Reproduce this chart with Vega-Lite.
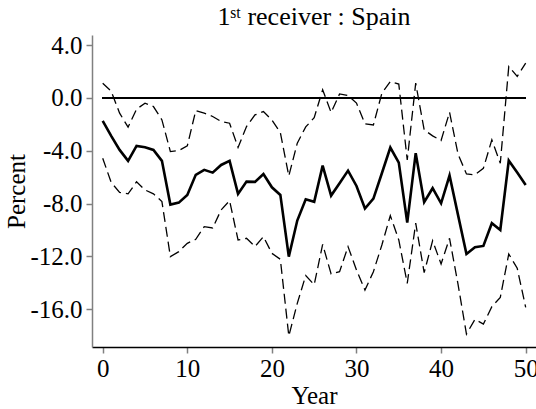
{
  "$schema": "https://vega.github.io/schema/vega-lite/v6.json",
  "autosize": "none",
  "width": 444,
  "height": 312,
  "padding": {"left": 92, "top": 35, "right": 0, "bottom": 62},
  "background": "white",
  "config": {
    "view": {"stroke": null},
    "font": "Liberation Serif",
    "axis": {"grid": false, "labelFont": "Liberation Serif", "titleFont": "Liberation Serif", "labelColor": "black", "titleColor": "black", "titleFontWeight": "normal", "labelFontSize": 25, "titleFontSize": 25}
  },
  "title": {"text": "1ˢᵗ receiver : Spain", "font": "Liberation Serif, DejaVu Serif, serif", "fontSize": 26, "fontWeight": "normal", "color": "black", "anchor": "middle", "offset": 3},
  "data": {"values": [
    {"year": 0, "mid": -1.74, "upper": 1.11, "lower": -4.57},
    {"year": 1, "mid": -2.88, "upper": 0.50, "lower": -6.40},
    {"year": 2, "mid": -3.94, "upper": -1.16, "lower": -7.15},
    {"year": 3, "mid": -4.77, "upper": -2.22, "lower": -7.27},
    {"year": 4, "mid": -3.64, "upper": -0.86, "lower": -6.36},
    {"year": 5, "mid": -3.74, "upper": -0.40, "lower": -6.97},
    {"year": 6, "mid": -3.94, "upper": -0.66, "lower": -7.27},
    {"year": 7, "mid": -4.77, "upper": -1.67, "lower": -7.85},
    {"year": 8, "mid": -8.08, "upper": -4.07, "lower": -12.02},
    {"year": 9, "mid": -7.93, "upper": -3.99, "lower": -11.64},
    {"year": 10, "mid": -7.35, "upper": -3.64, "lower": -11.01},
    {"year": 11, "mid": -5.83, "upper": -0.96, "lower": -10.71},
    {"year": 12, "mid": -5.45, "upper": -1.16, "lower": -9.75},
    {"year": 13, "mid": -5.66, "upper": -1.41, "lower": -9.85},
    {"year": 14, "mid": -5.08, "upper": -1.79, "lower": -8.48},
    {"year": 15, "mid": -4.77, "upper": -1.92, "lower": -7.78},
    {"year": 16, "mid": -7.27, "upper": -3.76, "lower": -10.76},
    {"year": 17, "mid": -6.34, "upper": -2.17, "lower": -10.63},
    {"year": 18, "mid": -6.36, "upper": -1.29, "lower": -11.26},
    {"year": 19, "mid": -5.76, "upper": -1.04, "lower": -10.51},
    {"year": 20, "mid": -6.77, "upper": -1.67, "lower": -11.77},
    {"year": 21, "mid": -7.35, "upper": -2.63, "lower": -12.22},
    {"year": 22, "mid": -12.02, "upper": -5.91, "lower": -18.03},
    {"year": 23, "mid": -9.29, "upper": -3.43, "lower": -15.56},
    {"year": 24, "mid": -7.68, "upper": -2.20, "lower": -13.45},
    {"year": 25, "mid": -7.87, "upper": -1.50, "lower": -14.15},
    {"year": 26, "mid": -5.13, "upper": 0.61, "lower": -11.09},
    {"year": 27, "mid": -7.40, "upper": -1.11, "lower": -13.33},
    {"year": 28, "mid": -6.46, "upper": 0.30, "lower": -13.16},
    {"year": 29, "mid": -5.51, "upper": 0.18, "lower": -11.26},
    {"year": 30, "mid": -6.67, "upper": -0.40, "lower": -13.03},
    {"year": 31, "mid": -8.38, "upper": -1.97, "lower": -14.55},
    {"year": 32, "mid": -7.63, "upper": -2.05, "lower": -13.16},
    {"year": 33, "mid": -5.71, "upper": 0.35, "lower": -11.14},
    {"year": 34, "mid": -3.76, "upper": 1.24, "lower": -8.91},
    {"year": 35, "mid": -4.90, "upper": 1.04, "lower": -10.76},
    {"year": 36, "mid": -9.44, "upper": -4.70, "lower": -14.04},
    {"year": 37, "mid": -4.19, "upper": 1.11, "lower": -9.49},
    {"year": 38, "mid": -7.90, "upper": -2.42, "lower": -13.23},
    {"year": 39, "mid": -6.84, "upper": -2.88, "lower": -10.81},
    {"year": 40, "mid": -7.98, "upper": -3.23, "lower": -12.58},
    {"year": 41, "mid": -5.88, "upper": -1.09, "lower": -10.63},
    {"year": 42, "mid": -8.86, "upper": -4.25, "lower": -14.10},
    {"year": 43, "mid": -11.82, "upper": -5.76, "lower": -17.88},
    {"year": 44, "mid": -11.31, "upper": -5.83, "lower": -16.77},
    {"year": 45, "mid": -11.21, "upper": -5.33, "lower": -17.12},
    {"year": 46, "mid": -9.49, "upper": -3.18, "lower": -15.81},
    {"year": 47, "mid": -10.00, "upper": -4.95, "lower": -15.10},
    {"year": 48, "mid": -4.75, "upper": 2.37, "lower": -11.82},
    {"year": 49, "mid": -5.66, "upper": 1.62, "lower": -12.90},
    {"year": 50, "mid": -6.59, "upper": 2.63, "lower": -15.86}
  ]},
  "encoding": {
    "x": {"field": "year", "type": "quantitative",
      "scale": {"domain": [-1.265, 51.22], "nice": false, "zero": false},
      "axis": {"title": "Year", "values": [0, 10, 20, 30, 40, 50], "format": "d", "domainColor": "black", "domainWidth": 1.5, "tickColor": "#808080", "tickSize": 6, "tickWidth": 1.5, "labelPadding": 3, "titlePadding": 2, "labelFlush": false}
    }
  },
  "layer": [
    {
      "mark": {"type": "rule", "color": "black", "strokeWidth": 1.2},
      "encoding": {"x": {"datum": 0}, "x2": {"datum": 50}, "y": {"datum": 0}}
    },
    {
      "mark": {"type": "line", "color": "black", "strokeWidth": 1.3, "strokeDash": [10, 5]},
      "encoding": {
        "y": {"field": "upper", "type": "quantitative",
          "scale": {"domain": [-18.86, 4.757], "nice": false, "zero": false},
          "axis": {"title": "Percent", "values": [-16, -12, -8, -4, 0, 4], "labelExpr": "replace(format(datum.value, '.1f'), '\u2212', '-')", "domainColor": "#808080", "domainWidth": 1.5, "tickColor": "#808080", "tickSize": 6, "tickWidth": 1.5, "labelPadding": 4, "titlePadding": 0}
        }
      }
    },
    {
      "mark": {"type": "line", "color": "black", "strokeWidth": 1.3, "strokeDash": [10, 5]},
      "encoding": {"y": {"field": "lower", "type": "quantitative"}}
    },
    {
      "mark": {"type": "line", "color": "black", "strokeWidth": 2.6},
      "encoding": {"y": {"field": "mid", "type": "quantitative"}}
    }
  ]
}
